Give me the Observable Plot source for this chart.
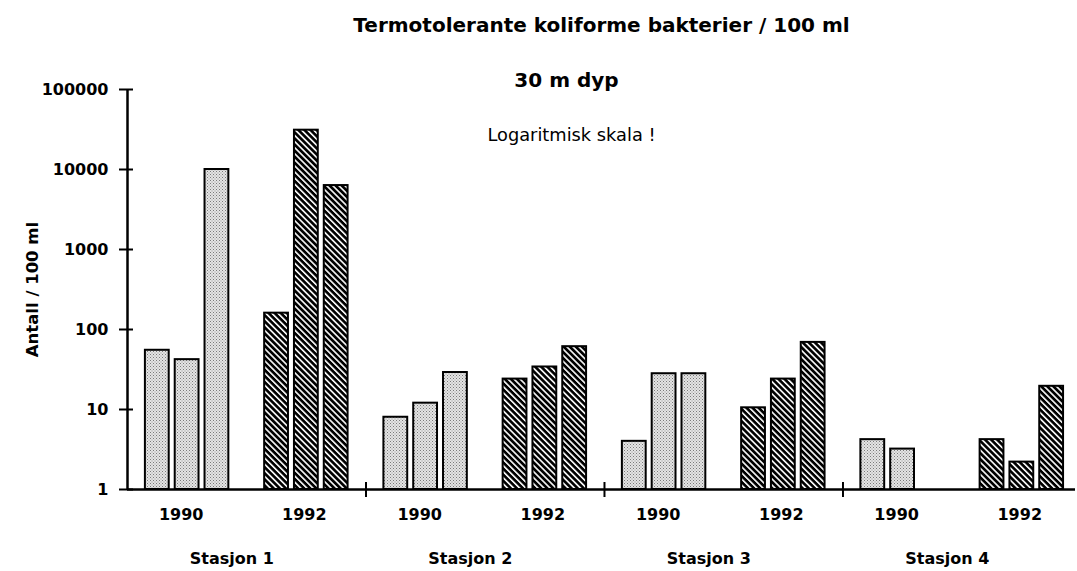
<!DOCTYPE html>
<html>
<head>
<meta charset="utf-8">
<script src="https://cdn.jsdelivr.net/npm/d3@7"></script>
<script src="https://cdn.jsdelivr.net/npm/@observablehq/plot@0.6"></script>
<style>
  html, body { margin: 0; padding: 0; background: #fff; }
</style>
</head>
<body>
<div id="chart"></div>
<script>
// ---- data ----
const stations = ["Stasjon 1", "Stasjon 2", "Stasjon 3", "Stasjon 4"];
const years = ["1990", "1992"];
const values1990 = [[55, 42, 10000], [8, 12, 29], [4, 28, 28], [4.2, 3.2, null]];
const values1992 = [[160, 31000, 6300], [24, 34, 61], [10.5, 24, 69], [4.2, 2.2, 19.5]];
const yTicks = [1, 10, 100, 1000, 10000, 100000];
const title = "Termotolerante koliforme bakterier / 100 ml";
const subtitle = "30 m dyp";
const note = "Logaritmisk skala !";
const yLabel = "Antall / 100 ml";

// slots: each station = 8 slots, 3 bars per year with an empty slot between
const SLOTS = 8;
const bars = [];
stations.forEach((st, s) => {
  [values1990, values1992].forEach((vals, yi) => {
    vals[s].forEach((v, i) => {
      if (v != null) bars.push({station: st, year: years[yi], i, value: v, pos: s * SLOTS + 1 + yi * 4 + i});
    });
  });
});
const yearLabels = [];
stations.forEach((st, s) => years.forEach((y, yi) => yearLabels.push({year: y, pos: s * SLOTS + 2 + yi * 4 - (yi === 0 ? 0.2 : 0.07)})));
const stationLabels = stations.map((st, s) => ({station: st, pos: s * SLOTS + 3.5}));
const separators = stations.slice(1).map((st, s) => (s + 1) * SLOTS);

const W = 1077, H = 571, mL = 127, mR = 2, mT = 89, mB = 82;
const frameW = W - mL - mR;

const svg = Plot.plot({
  width: W,
  height: H,
  marginLeft: mL,
  marginRight: mR,
  marginTop: mT,
  marginBottom: mB,
  style: {fontFamily: "DejaVu Sans", fontSize: "15px", fontWeight: "bold", color: "#000", background: "#fff"},
  x: {domain: [0, 31.8], axis: null, label: null},
  y: {type: "log", domain: [1, 100000], axis: null, label: null},
  marks: [
    Plot.rectY(bars, {
      x1: d => d.pos - 0.5, x2: d => d.pos + 0.5, y1: 1, y2: "value",
      insetLeft: 3, insetRight: 3,
      fill: d => d.year === "1990" ? "url(#stip)" : "url(#hatch)",
      stroke: "#000", strokeWidth: 2
    }),
    Plot.ruleX([0], {stroke: "#000", strokeWidth: 2.5}),
    Plot.ruleY([1], {stroke: "#000", strokeWidth: 2.5}),
    Plot.ruleY(yTicks, {insetLeft: -8, insetRight: frameW - 6, stroke: "#000", strokeWidth: 2}),
    Plot.ruleX(separators, {insetTop: 393, insetBottom: -8, stroke: "#000", strokeWidth: 2}),
    Plot.axisY({ticks: yTicks, tickSize: 0, tickPadding: 19, tickFormat: d => String(d), fontSize: 16, label: null}),
    Plot.text(yearLabels, {x: "pos", text: "year", frameAnchor: "bottom", lineAnchor: "bottom", dy: 30, fontSize: 16}),
    Plot.text(stationLabels, {x: "pos", text: "station", frameAnchor: "bottom", lineAnchor: "bottom", dy: 74, fontSize: 16}),
    Plot.text([title], {frameAnchor: "top", lineAnchor: "bottom", dy: -58, fontSize: 20}),
    Plot.text([subtitle], {frameAnchor: "top", lineAnchor: "bottom", dx: -35, dy: -3, fontSize: 20}),
    Plot.text([note], {frameAnchor: "top", lineAnchor: "bottom", dx: -30, dy: 51, fontSize: 17.8, fontWeight: "normal"}),
    Plot.text([yLabel], {frameAnchor: "left", textAnchor: "middle", rotate: -90, dx: -95, fontSize: 16.5})
  ]
});

// patterns
const defs = d3.select(svg).insert("defs", ":first-child");
const stip = defs.append("pattern").attr("id", "stip").attr("patternUnits", "userSpaceOnUse")
  .attr("width", 3).attr("height", 3);
stip.append("rect").attr("width", 3).attr("height", 3).attr("fill", "#e4e4e4");
stip.append("rect").attr("x", 0).attr("y", 0).attr("width", 1).attr("height", 1).attr("fill", "#7a7a7a");
stip.append("rect").attr("x", 1.5).attr("y", 1.5).attr("width", 1).attr("height", 1).attr("fill", "#959595");
const hatch = defs.append("pattern").attr("id", "hatch").attr("patternUnits", "userSpaceOnUse")
  .attr("width", 4.3).attr("height", 4.3).attr("patternTransform", "rotate(45)");
hatch.append("rect").attr("width", 4.3).attr("height", 4.3).attr("fill", "#fff");
hatch.append("rect").attr("x", 0).attr("y", 0).attr("width", 4.3).attr("height", 2.7).attr("fill", "#000");

document.getElementById("chart").appendChild(svg);
</script>
</body>
</html>
